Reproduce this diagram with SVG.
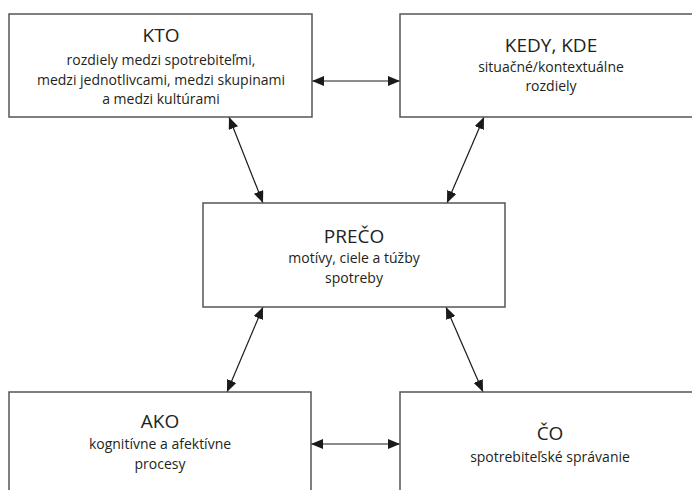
<svg xmlns="http://www.w3.org/2000/svg" width="692" height="490" viewBox="0 0 692 490">
<defs>
<marker id="ah" viewBox="0 0 12 10" refX="12" refY="5" markerWidth="12" markerHeight="10" markerUnits="userSpaceOnUse" orient="auto-start-reverse">
<path d="M0,0 L12,5 L0,10 Z" fill="#1a1a1a"/>
</marker>
<style>
.box{fill:#fff;stroke:#555;stroke-width:1.5}
.t{font-family:"Open Sans","Liberation Sans",sans-serif;fill:#231f20;text-anchor:middle}
.h{font-size:19px}
.s{font-size:14px}
.c{stroke:#1a1a1a;stroke-width:1.2;fill:none;marker-start:url(#ah);marker-end:url(#ah)}
</style>
</defs>
<rect width="692" height="490" fill="#fff"/>
<g id="connectors">
<line class="c" x1="312" y1="81" x2="400" y2="81"/>
<line class="c" x1="229" y1="117" x2="263" y2="203"/>
<line class="c" x1="484" y1="117" x2="447" y2="203"/>
<line class="c" x1="263" y1="307" x2="227" y2="392"/>
<line class="c" x1="446" y1="307" x2="483" y2="392"/>
<line class="c" x1="311" y1="444" x2="400" y2="444"/>
</g>
<g id="kto">
<rect class="box" x="9" y="14" width="303" height="103"/>
<text class="t h" x="161" y="42">KTO</text>
<text class="t s" x="161" y="65">rozdiely medzi spotrebiteľmi,</text>
<text class="t s" x="161" y="85">medzi jednotlivcami, medzi skupinami</text>
<text class="t s" x="161" y="104">a medzi kultúrami</text>
</g>
<g id="kedy">
<rect class="box" x="400" y="14" width="310" height="103"/>
<text class="t h" x="551" y="52">KEDY, KDE</text>
<text class="t s" x="551" y="72">situačné/kontextuálne</text>
<text class="t s" x="551" y="91">rozdiely</text>
</g>
<g id="preco">
<rect class="box" x="203" y="203" width="302" height="104"/>
<text class="t h" x="354" y="243">PREČO</text>
<text class="t s" x="354" y="263">motívy, ciele a túžby</text>
<text class="t s" x="354" y="283">spotreby</text>
</g>
<g id="ako">
<rect class="box" x="9" y="392" width="302" height="110"/>
<text class="t h" x="160" y="428">AKO</text>
<text class="t s" x="160" y="449">kognitívne a afektívne</text>
<text class="t s" x="160" y="469">procesy</text>
</g>
<g id="co">
<rect class="box" x="400" y="392" width="310" height="110"/>
<text class="t h" x="550" y="440">ČO</text>
<text class="t s" x="550" y="462">spotrebiteľské správanie</text>
</g>
</svg>
